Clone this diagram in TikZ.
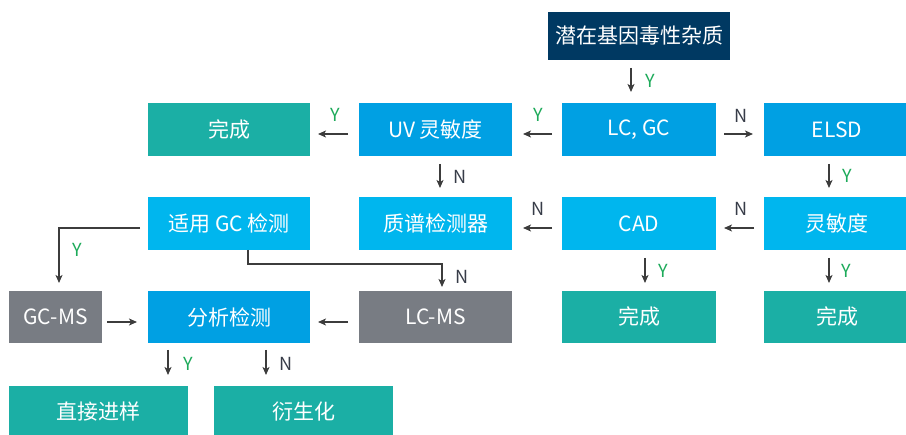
\documentclass[tikz,border=0pt]{standalone}
\usepackage{fontspec}
\setmainfont{Noto Sans CJK SC}
\usetikzlibrary{arrows.meta,calc}
\definecolor{navy}{RGB}{0,57,98}
\definecolor{blueA}{RGB}{0,160,227}
\definecolor{blueB}{RGB}{0,182,238}
\definecolor{tealC}{RGB}{27,175,165}
\definecolor{grayC}{RGB}{120,124,131}
\definecolor{yesC}{RGB}{29,170,90}
\definecolor{noC}{RGB}{55,60,72}
\definecolor{arrC}{RGB}{60,60,60}
\tikzset{
  box/.style={rectangle, draw=none, inner sep=0pt, outer sep=0pt, text=white,
    font=\fontsize{21}{25}\selectfont},
  arr/.style={draw=arrC, line width=1.4pt, -{Stealth[length=8pt,width=7pt,inset=2pt]}},
  ylab/.style={text=yesC, font=\fontsize{18}{20}\selectfont, inner sep=0pt},
  nlab/.style={text=noC, font=\fontsize{18}{20}\selectfont, inner sep=0pt}
}
\begin{document}
\begin{tikzpicture}[x=1pt,y=-1pt]
\useasboundingbox (0,0) rectangle (906,435);
% row 0
\node[box, fill=navy, minimum width=182pt, minimum height=48pt] (top) at (639,36) {潜在基因毒性杂质};
% row 1
\node[box, fill=tealC, minimum width=162pt, minimum height=53pt] (done1) at (229,129.5) {完成};
\node[box, fill=blueA, minimum width=153pt, minimum height=53pt] (uv) at (435.5,129.5) {UV 灵敏度};
\node[box, fill=blueA, minimum width=154pt, minimum height=53pt] (lcgc) at (639,129.5) {LC, GC};
\node[box, fill=blueA, minimum width=146pt, minimum height=53pt] (elsd) at (837,129.5) {ELSD};
% row 2
\node[box, fill=blueB, minimum width=162pt, minimum height=53pt] (gcsel) at (229,223.5) {适用 GC 检测};
\node[box, fill=blueB, minimum width=153pt, minimum height=53pt] (ms) at (435.5,223.5) {质谱检测器};
\node[box, fill=blueB, minimum width=154pt, minimum height=53pt] (cad) at (639,223.5) {CAD};
\node[box, fill=blueB, minimum width=146pt, minimum height=53pt] (sens) at (837,223.5) {灵敏度};
% row 3
\node[box, fill=grayC, minimum width=93pt, minimum height=52pt] (gcms) at (55.5,317) {GC-MS};
\node[box, fill=blueA, minimum width=162pt, minimum height=52pt] (ana) at (229,317) {分析检测};
\node[box, fill=grayC, minimum width=153pt, minimum height=52pt] (lcms) at (435.5,317) {LC-MS};
\node[box, fill=tealC, minimum width=154pt, minimum height=52pt] (done2) at (639,317) {完成};
\node[box, fill=tealC, minimum width=146pt, minimum height=52pt] (done3) at (837,317) {完成};
% row 4
\node[box, fill=tealC, minimum width=179pt, minimum height=51pt] (direct) at (98.5,411.5) {直接进样};
\node[box, fill=tealC, minimum width=179pt, minimum height=51pt] (deriv) at (303.5,411.5) {衍生化};
% vertical arrows
\draw[arr] ([xshift=-8pt,yshift=-8pt]top.south) -- ([xshift=-8pt,yshift=11pt]lcgc.north);
\draw[arr] ([xshift=4.5pt,yshift=-8pt]uv.south) -- ([xshift=4.5pt,yshift=9pt]ms.north);
\draw[arr] ([xshift=-8pt,yshift=-8pt]elsd.south) -- ([xshift=-8pt,yshift=9pt]sens.north);
\draw[arr] ([xshift=6pt,yshift=-8pt]cad.south) -- ([xshift=6pt,yshift=8pt]done2.north);
\draw[arr] ([xshift=-8pt,yshift=-8pt]sens.south) -- ([xshift=-8pt,yshift=8pt]done3.north);
\draw[arr] ([xshift=-61pt,yshift=-7pt]ana.south) -- ([xshift=-61pt,yshift=11pt]ana.south |- direct.north);
\draw[arr] ([xshift=37pt,yshift=-7pt]ana.south) -- ([xshift=37pt,yshift=11pt]ana.south |- deriv.north);
% horizontal arrows
\draw[arr] ([xshift=-11pt,yshift=-4.5pt]uv.west) -- ([xshift=8pt,yshift=-4.5pt]done1.east);
\draw[arr] ([xshift=-10pt,yshift=-4.5pt]lcgc.west) -- ([xshift=11pt,yshift=-4.5pt]uv.east);
\draw[arr] ([xshift=8pt,yshift=-4.5pt]lcgc.east) -- ([xshift=-11pt,yshift=-4.5pt]elsd.west);
\draw[arr] ([xshift=-10pt,yshift=-4.5pt]sens.west) -- ([xshift=8pt,yshift=-4.5pt]cad.east);
\draw[arr] ([xshift=-10pt,yshift=-4.5pt]cad.west) -- ([xshift=11pt,yshift=-4.5pt]ms.east);
\draw[arr] ([xshift=5pt,yshift=-5pt]gcms.east) -- ([xshift=-11pt,yshift=-5pt]ana.west);
\draw[arr] ([xshift=-11pt,yshift=-5pt]lcms.west) -- ([xshift=8pt,yshift=-5pt]ana.east);
% elbow connectors
\draw[arr] ([xshift=-8pt,yshift=-4.5pt]gcsel.west) -| ([xshift=3.5pt,yshift=8pt]gcms.north);
\coordinate (elb) at ([xshift=19pt,yshift=-14pt]gcsel.south);
\draw[arr] ([xshift=19pt]gcsel.south) -- (elb) -| ([xshift=6.5pt,yshift=4pt]lcms.north);
% labels
\node[ylab] (l1) at (650,81) {Y};
\node[ylab] (l2) at (335,115) {Y};
\node[ylab] (l3) at (538,115) {Y};
\node[nlab] (l4) at (741,116) {N};
\node[nlab] (l5) at (460,177) {N};
\node[ylab] (l6) at (847,176) {Y};
\node[ylab] (l7) at (77,250) {Y};
\node[nlab] (l8) at (538,209) {N};
\node[nlab] (l9) at (741,209) {N};
\node[nlab] (l10) at (462,277) {N};
\node[ylab] (l11) at (663,271) {Y};
\node[ylab] (l12) at (846,271) {Y};
\node[ylab] (l13) at (188,364) {Y};
\node[nlab] (l14) at (286,364) {N};
\end{tikzpicture}
\end{document}
